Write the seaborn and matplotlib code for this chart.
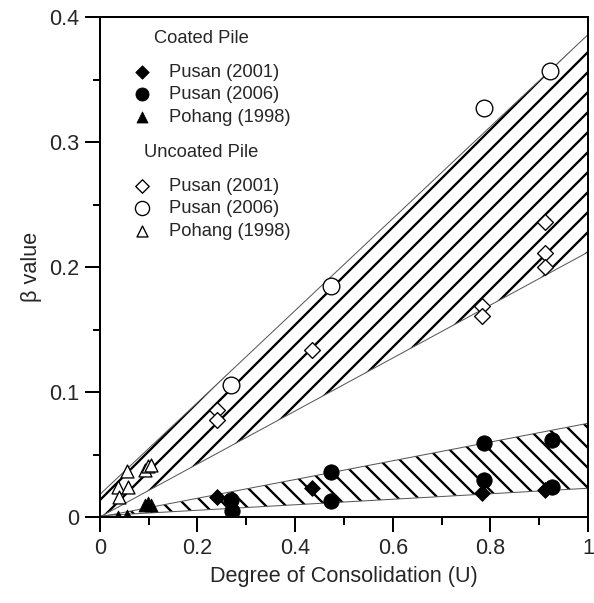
import numpy as np
import pandas as pd
import seaborn as sns
import matplotlib
matplotlib.use("Agg")
import matplotlib.pyplot as plt
from matplotlib.ticker import MultipleLocator, FuncFormatter

# 数据
coated_pusan2001_u = [0.24, 0.435, 0.783, 0.911]
coated_pusan2001_b = [0.016, 0.023, 0.019, 0.022]
coated_pusan2006_u = [0.268, 0.27, 0.474, 0.474, 0.787, 0.787, 0.927, 0.927]
coated_pusan2006_b = [0.014, 0.005, 0.036, 0.013, 0.059, 0.030, 0.062, 0.024]
coated_pohang_u = [0.037, 0.055, 0.092, 0.098, 0.105]
coated_pohang_b = [0.0, 0.001, 0.010, 0.011, 0.010]

uncoated_pusan2001_u = [0.24, 0.24, 0.435, 0.783, 0.783, 0.911, 0.911, 0.911]
uncoated_pusan2001_b = [0.086, 0.078, 0.134, 0.169, 0.161, 0.236, 0.211, 0.200]
uncoated_pusan2006_u = [0.268, 0.474, 0.787, 0.923]
uncoated_pusan2006_b = [0.106, 0.185, 0.327, 0.357]
uncoated_pohang_u = [0.037, 0.04, 0.055, 0.057, 0.092, 0.098, 0.105]
uncoated_pohang_b = [0.024, 0.016, 0.037, 0.024, 0.038, 0.041, 0.042]

# 范围带的边界线 (U = 0 和 U = 1 处的值)
band_u = [0.0, 1.0]
uncoated_top = [0.018, 0.386]
uncoated_bottom = [0.0, 0.212]
coated_top = [0.0, 0.075]
coated_bottom = [0.001, 0.023]

sns.set_style("ticks")
plt.rcParams['font.family'] = ['Liberation Sans', 'DejaVu Sans']
plt.rcParams['hatch.linewidth'] = 1.4

fig = plt.figure(figsize=(594 / 120, 603 / 120), dpi=120)
ax = fig.add_axes([0.168, 0.1426, 0.822, 0.829])

# 阴影带
ax.fill_between(band_u, uncoated_bottom, uncoated_top, facecolor='none',
                edgecolor='black', hatch='//', linewidth=0)
ax.fill_between(band_u, coated_bottom, coated_top, facecolor='none',
                edgecolor='black', hatch='\\\\', linewidth=0)
for ys in [uncoated_top, uncoated_bottom, coated_top, coated_bottom]:
    ax.plot(band_u, ys, color='#555555', linewidth=0.6)

# 散点
kw_fill = dict(color='black', edgecolor='black', linewidth=0.5, zorder=5)
kw_open = dict(color='white', edgecolor='black', linewidth=0.8, zorder=5)
sns.scatterplot(x=coated_pusan2001_u, y=coated_pusan2001_b, marker='D', s=45, ax=ax, **kw_fill)
sns.scatterplot(x=coated_pusan2006_u, y=coated_pusan2006_b, marker='o', s=85, ax=ax, **kw_fill)
sns.scatterplot(x=coated_pohang_u, y=coated_pohang_b, marker='^', s=60, ax=ax, **kw_fill)
sns.scatterplot(x=uncoated_pusan2001_u, y=uncoated_pusan2001_b, marker='D', s=45, ax=ax, **kw_open)
sns.scatterplot(x=uncoated_pusan2006_u, y=uncoated_pusan2006_b, marker='o', s=100, ax=ax, **kw_open)
sns.scatterplot(x=uncoated_pohang_u, y=uncoated_pohang_b, marker='^', s=60, ax=ax, **kw_open)

colls = ax.collections[2:]
labels = ['Pusan (2001)', 'Pusan (2006)', 'Pohang (1998)']

# 图例
leg1 = ax.legend(colls[:3], labels, loc='upper left', bbox_to_anchor=(0.045, 0.925),
                 frameon=False, fontsize=11, handletextpad=0.9, labelspacing=0.3,
                 borderpad=0, handlelength=1.2, markerscale=0.85)
ax.add_artist(leg1)
leg2 = ax.legend(colls[3:], labels, loc='upper left', bbox_to_anchor=(0.045, 0.697),
                 frameon=False, fontsize=11, handletextpad=0.9, labelspacing=0.3,
                 borderpad=0, handlelength=1.2, markerscale=0.85)
ax.text(0.112, 0.958, 'Coated Pile', transform=ax.transAxes, fontsize=11, va='center')
ax.text(0.091, 0.73, 'Uncoated Pile', transform=ax.transAxes, fontsize=11, va='center')

ax.set_xlim(0, 1)
ax.set_ylim(0, 0.4)
ax.xaxis.set_major_locator(MultipleLocator(0.2))
ax.xaxis.set_minor_locator(MultipleLocator(0.1))
ax.yaxis.set_major_locator(MultipleLocator(0.1))
ax.yaxis.set_minor_locator(MultipleLocator(0.05))
fmt = FuncFormatter(lambda v, pos: '%g' % round(v, 3))
ax.xaxis.set_major_formatter(fmt)
ax.yaxis.set_major_formatter(fmt)
ax.tick_params(which='major', direction='out', length=9, width=1.2, labelsize=13, color='black')
ax.tick_params(which='minor', direction='out', length=4.5, width=1.2, color='black')
for sp in ax.spines.values():
    sp.set_color('black')
    sp.set_linewidth(1.2)

ax.set_xlabel('Degree of Consolidation (U)', fontsize=13)
ax.set_ylabel('β value', fontsize=13)

fig.savefig('out.png', dpi=120)
